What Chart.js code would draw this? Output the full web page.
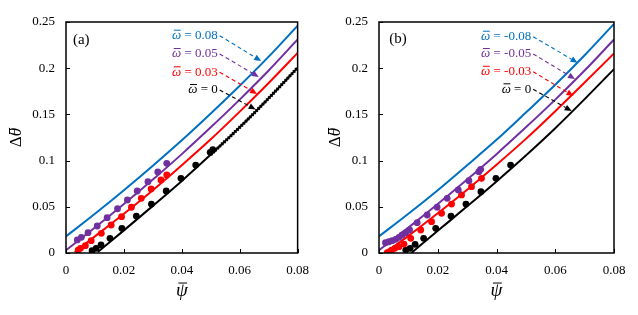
<!DOCTYPE html>
<html lang="en">
<head>
<meta charset="UTF-8">
<script src="https://cdn.jsdelivr.net/npm/chart.js@4.4.0/dist/chart.umd.min.js"></script>
<title>Delta theta vs psi</title>
<style>
    body { margin: 0; background: #fff; }
    .wrap { display: flex; width: 638px; height: 315px; }
    .panel { width: 319px; height: 315px; }
</style>
</head>
<body>
<div class="wrap">
    <div class="panel"><canvas id="chartA" width="319" height="315"></canvas></div>
    <div class="panel"><canvas id="chartB" width="319" height="315"></canvas></div>
</div>
<script>
// tick labels
const xTicks = [0, 0.02, 0.04, 0.06, 0.08];
const yTicks = [0, 0.05, 0.1, 0.15, 0.2, 0.25];

// model curves, panel (a)
const psiLine = [0, 0.01, 0.02, 0.03, 0.04, 0.05, 0.06, 0.07, 0.08];
const blueA = [0.018, 0.0425, 0.068, 0.0945, 0.122, 0.151, 0.181, 0.2125, 0.246];
const purpleA = [0.003, 0.0275, 0.053, 0.0795, 0.107, 0.136, 0.166, 0.1975, 0.231];
const psiRedA = [0.003, 0.01, 0.02, 0.03, 0.04, 0.05, 0.06, 0.07, 0.08];
const redA = [0.001, 0.018, 0.0425, 0.068, 0.095, 0.123, 0.153, 0.184, 0.2165];
const psiBlackA = [0.011, 0.02, 0.03, 0.04, 0.05, 0.06, 0.07, 0.08];
const blackA = [0.001, 0.0245, 0.051, 0.078, 0.1065, 0.136, 0.1675, 0.2005];
// dense black data on top of the zero curve
const psiDenseA = [0.05, 0.06, 0.07, 0.08];
const denseA = [0.1065, 0.136, 0.1675, 0.2005];

// measured points, panel (a)
const psiPurpleDotsA = [0.0039, 0.0053, 0.0076, 0.0108, 0.0142, 0.0178, 0.0212, 0.0246, 0.0283, 0.0317, 0.0348];
const purpleDotsA = [0.0141, 0.0170, 0.0220, 0.0292, 0.0382, 0.0479, 0.0574, 0.0671, 0.0772, 0.0877, 0.0971];
const psiRedDotsA = [0.0042, 0.0050, 0.0067, 0.0087, 0.0122, 0.0156, 0.0192, 0.0226, 0.0260, 0.0294, 0.0328, 0.0348];
const redDotsA = [0.0032, 0.0051, 0.0079, 0.0133, 0.0213, 0.0303, 0.0393, 0.0495, 0.0592, 0.0693, 0.0790, 0.0844];
const psiBlackDotsA = [0.0090, 0.0104, 0.0121, 0.0152, 0.0193, 0.0243, 0.0295, 0.0346, 0.0397, 0.0448, 0.0498, 0.0507];
const blackDotsA = [0.0025, 0.0051, 0.0087, 0.0159, 0.0267, 0.0400, 0.0530, 0.0671, 0.0808, 0.0952, 0.1090, 0.1118];

// model curves, panel (b)
const blueB = [0.018, 0.0425, 0.068, 0.095, 0.1225, 0.152, 0.182, 0.214, 0.248];
const purpleB = [0.003, 0.0275, 0.053, 0.0795, 0.107, 0.136, 0.166, 0.1975, 0.231];
const psiRedB = [0.002, 0.01, 0.02, 0.03, 0.04, 0.05, 0.06, 0.07, 0.08];
const redB = [0.0, 0.0185, 0.043, 0.0685, 0.0955, 0.1235, 0.1535, 0.1845, 0.216];
const psiBlackB = [0.011, 0.02, 0.03, 0.04, 0.05, 0.06, 0.07, 0.08];
const blackB = [0.0, 0.024, 0.0505, 0.0775, 0.1055, 0.135, 0.1665, 0.199];

// measured points, panel (b)
const psiPurpleDotsB = [0.0022, 0.0034, 0.0045, 0.0057, 0.0068, 0.0079, 0.0091, 0.0104, 0.0130, 0.0164, 0.0198, 0.0232, 0.0270, 0.0306, 0.0340, 0.0346];
const purpleDotsB = [0.0111, 0.0122, 0.0133, 0.0148, 0.0170, 0.0195, 0.0220, 0.0249, 0.0328, 0.0411, 0.0495, 0.0592, 0.0682, 0.0782, 0.0880, 0.0906];
const psiRedDotsB = [0.0028, 0.0036, 0.0043, 0.0054, 0.0068, 0.0085, 0.0108, 0.0142, 0.0179, 0.0213, 0.0247, 0.0281, 0.0315, 0.0349];
const redDotsB = [0.0005, 0.0014, 0.0032, 0.0051, 0.0068, 0.0097, 0.0159, 0.0249, 0.0339, 0.0430, 0.0530, 0.0628, 0.0718, 0.0808];
const psiBlackDotsB = [0.0091, 0.0106, 0.0123, 0.0152, 0.0193, 0.0245, 0.0296, 0.0347, 0.0398, 0.0448];
const blackDotsB = [0.0032, 0.0051, 0.0094, 0.0159, 0.0267, 0.0400, 0.0530, 0.0663, 0.0808, 0.0952];

const BLUE = '#0070C0', PURPLE = '#7030A0', RED = '#FF0000', BLACK = '#000000';
const FONT = '"Liberation Serif", "Times New Roman", serif';

// annotation placement (data units)
const notesA = {
    tag: '(a)', tagAt: [0.0024, 0.2305],
    labels: ['0.08', '0.05', '0.03', '0'],
    colors: [BLUE, PURPLE, RED, BLACK],
    textRight: [0.0524, 0.0524, 0.0524, 0.0524],
    textY: [0.2352, 0.2154, 0.1956, 0.1764],
    tipX: [0.0674, 0.0666, 0.0660, 0.0655],
    tipY: [0.2078, 0.1905, 0.1721, 0.1553]
};
const notesB = {
    tag: '(b)', tagAt: [0.0035, 0.2315],
    labels: ['-0.08', '-0.05', '-0.03', '0'],
    colors: [BLUE, PURPLE, RED, BLACK],
    textRight: [0.0518, 0.0518, 0.0518, 0.0518],
    textY: [0.2341, 0.2154, 0.1962, 0.1772],
    tipX: [0.0676, 0.0667, 0.0662, 0.0656],
    tipY: [0.2059, 0.1883, 0.1699, 0.1537]
};

function pts(xs, ys) {
    return xs.map((x, i) => ({ x: x, y: ys[i] }));
}

function curve(xs, ys, color) {
    return {
        type: 'line', data: pts(xs, ys), borderColor: color, borderWidth: 2,
        pointRadius: 0, cubicInterpolationMode: 'monotone', order: 2
    };
}

function dots(xs, ys, color) {
    return {
        type: 'scatter', data: pts(xs, ys), backgroundColor: color, borderColor: color,
        pointRadius: 3.4, borderWidth: 0, order: 1
    };
}

function fmt(v) {
    return v === 0 ? '0' : String(Math.round(v * 100) / 100);
}

// glyph with a bar on top, then plain text
function barText(ctx, barCh, rest, x, y, size, align) {
    ctx.font = 'italic ' + size + 'px ' + FONT;
    const w1 = ctx.measureText(barCh).width;
    ctx.font = size + 'px ' + FONT;
    const w2 = ctx.measureText(rest).width;
    let x0 = align === 'right' ? x - w1 - w2 : (align === 'center' ? x - (w1 + w2) / 2 : x);
    ctx.textAlign = 'left';
    ctx.textBaseline = 'middle';
    ctx.font = 'italic ' + size + 'px ' + FONT;
    ctx.fillText(barCh, x0, y);
    ctx.font = size + 'px ' + FONT;
    ctx.fillText(rest, x0 + w1, y);
    ctx.beginPath();
    ctx.lineWidth = 1;
    ctx.setLineDash([]);
    ctx.moveTo(x0 + w1 * 0.2, y - size * 0.42);
    ctx.lineTo(x0 + w1 * 0.95, y - size * 0.42);
    ctx.stroke();
}

const framePlugin = {
    id: 'frame',
    afterDatasetsDraw(chart) {
        const ctx = chart.ctx;
        const { left, right, top, bottom } = chart.chartArea;
        const xs = chart.scales.x, ys = chart.scales.y;
        ctx.save();
        ctx.strokeStyle = '#000';
        ctx.lineWidth = 1.5;
        ctx.strokeRect(left, top, right - left, bottom - top);
        ctx.lineWidth = 1;
        ctx.beginPath();
        xTicks.forEach(v => {
            const px = Math.round(xs.getPixelForValue(v)) + 0.5;
            ctx.moveTo(px, bottom); ctx.lineTo(px, bottom - 4);
        });
        yTicks.forEach(v => {
            const py = Math.round(ys.getPixelForValue(v)) + 0.5;
            ctx.moveTo(left, py); ctx.lineTo(left + 4, py);
        });
        ctx.stroke();

        // annotations
        const n = chart.options.plugins.frame.notes;
        ctx.fillStyle = '#000';
        ctx.font = '15px ' + FONT;
        ctx.textAlign = 'left';
        ctx.textBaseline = 'middle';
        ctx.fillText(n.tag, xs.getPixelForValue(n.tagAt[0]), ys.getPixelForValue(n.tagAt[1]));
        n.labels.forEach((lab, i) => {
            const tx = xs.getPixelForValue(n.textRight[i]);
            const ty = ys.getPixelForValue(n.textY[i]);
            ctx.fillStyle = n.colors[i];
            ctx.strokeStyle = n.colors[i];
            barText(ctx, '\u03C9', ' = ' + lab, tx, ty, 13, 'right');
            const ax = xs.getPixelForValue(n.tipX[i]);
            const ay = ys.getPixelForValue(n.tipY[i]);
            const sx = tx + 2, sy = ty;
            const ang = Math.atan2(ay - sy, ax - sx);
            const hl = 7, hw = 3;
            ctx.beginPath();
            ctx.setLineDash([4, 3]);
            ctx.lineWidth = 1.1;
            ctx.moveTo(sx, sy);
            ctx.lineTo(ax - hl * Math.cos(ang), ay - hl * Math.sin(ang));
            ctx.stroke();
            ctx.setLineDash([]);
            ctx.beginPath();
            ctx.moveTo(ax, ay);
            ctx.lineTo(ax - hl * Math.cos(ang) + hw * Math.sin(ang), ay - hl * Math.sin(ang) - hw * Math.cos(ang));
            ctx.lineTo(ax - hl * Math.cos(ang) - hw * Math.sin(ang), ay - hl * Math.sin(ang) + hw * Math.cos(ang));
            ctx.closePath();
            ctx.fill();
        });

        // axis titles
        ctx.fillStyle = '#000';
        ctx.strokeStyle = '#000';
        barText(ctx, '\u03C8', '', (left + right) / 2, 291, 19, 'center');
        ctx.save();
        ctx.translate(17, (top + bottom) / 2);
        ctx.rotate(-Math.PI / 2);
        ctx.font = '17px ' + FONT;
        const wd = ctx.measureText('\u0394').width;
        ctx.font = 'italic 17px ' + FONT;
        const wt = ctx.measureText('\u03B8').width;
        const x0 = -(wd + wt) / 2;
        ctx.textAlign = 'left';
        ctx.textBaseline = 'middle';
        ctx.font = '17px ' + FONT;
        ctx.fillText('\u0394', x0, 0);
        ctx.font = 'italic 17px ' + FONT;
        ctx.fillText('\u03B8', x0 + wd, 0);
        ctx.beginPath();
        ctx.lineWidth = 1;
        ctx.moveTo(x0 + wd + wt * 0.25, -7.5);
        ctx.lineTo(x0 + wd + wt * 1.0, -7.5);
        ctx.stroke();
        ctx.restore();
        ctx.restore();
    }
};

function makeChart(id, datasets, notes, leftW, rightPad) {
    const ctx = document.getElementById(id).getContext('2d');
    return new Chart(ctx, {
        type: 'scatter',
        data: { datasets: datasets },
        options: {
            responsive: false,
            animation: false,
            layout: { padding: { left: 0, right: rightPad, top: 22, bottom: 0 } },
            plugins: { legend: { display: false }, tooltip: { enabled: false }, frame: { notes: notes } },
            scales: {
                x: {
                    type: 'linear', min: 0, max: 0.08,
                    afterBuildTicks: s => { s.ticks = xTicks.map(v => ({ value: v })); },
                    afterFit: s => { s.height = 62; },
                    grid: { display: false, drawTicks: false },
                    border: { display: false },
                    ticks: { padding: 10, color: '#000', font: { family: FONT, size: 13 }, maxRotation: 0, callback: fmt }
                },
                y: {
                    type: 'linear', min: 0, max: 0.25,
                    afterBuildTicks: s => { s.ticks = yTicks.map(v => ({ value: v })); },
                    afterFit: s => { s.width = leftW; },
                    grid: { display: false, drawTicks: false },
                    border: { display: false },
                    ticks: { padding: 11, color: '#000', font: { family: FONT, size: 13 }, callback: fmt }
                }
            }
        },
        plugins: [framePlugin]
    });
}

makeChart('chartA', [
    dots(psiPurpleDotsA, purpleDotsA, PURPLE),
    dots(psiRedDotsA, redDotsA, RED),
    dots(psiBlackDotsA, blackDotsA, BLACK),
    { type: 'line', data: pts(psiDenseA, denseA), borderColor: BLACK, borderWidth: 3.5, borderDash: [1.5, 1.5],
      pointRadius: 0, cubicInterpolationMode: 'monotone', order: 1 },
    curve(psiLine, blueA, BLUE),
    curve(psiLine, purpleA, PURPLE),
    curve(psiRedA, redA, RED),
    curve(psiBlackA, blackA, BLACK)
], notesA, 66, 18);

makeChart('chartB', [
    dots(psiPurpleDotsB, purpleDotsB, PURPLE),
    dots(psiRedDotsB, redDotsB, RED),
    dots(psiBlackDotsB, blackDotsB, BLACK),
    curve(psiLine, blueB, BLUE),
    curve(psiLine, purpleB, PURPLE),
    curve(psiRedB, redB, RED),
    curve(psiBlackB, blackB, BLACK)
], notesB, 60, 24);
</script>
</body>
</html>
